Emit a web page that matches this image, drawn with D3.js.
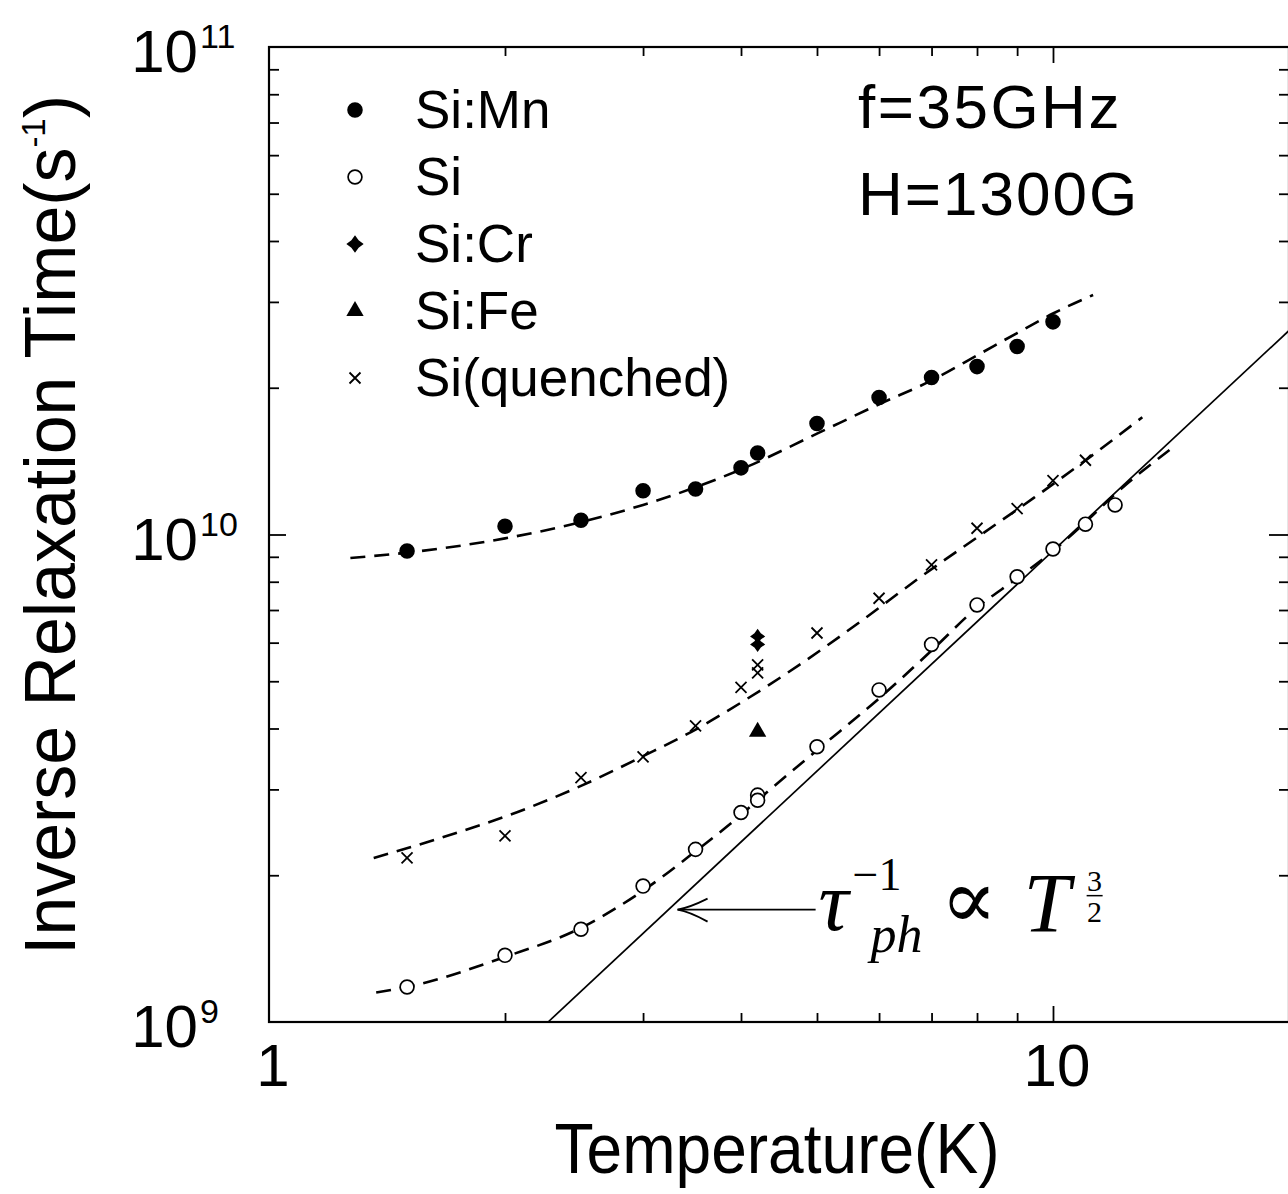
<!DOCTYPE html>
<html>
<head>
<meta charset="utf-8">
<script src="https://cdn.jsdelivr.net/npm/d3@7"></script>
<style>
  body { margin: 0; background: #fff; }
  text { fill: #000; }
</style>
</head>
<body>
<svg id="chart" width="1288" height="1194"></svg>
<script>
// values: temperature in K, inverse relaxation time in s^-1
var mnT    = [1.5, 2, 2.5, 3, 3.5, 4, 4.2, 5, 6, 7, 8, 9, 10];
var mnRate = [9.25e9, 1.04e10, 1.07e10, 1.23e10, 1.24e10, 1.37e10, 1.47e10, 1.69e10, 1.91e10, 2.10e10, 2.21e10, 2.43e10, 2.73e10];

var siT    = [1.5, 2, 2.5, 3, 3.5, 4, 4.2, 4.2, 5, 6, 7, 8, 9, 10, 11, 12];
var siRate = [1.18e9, 1.37e9, 1.55e9, 1.90e9, 2.26e9, 2.69e9, 2.92e9, 2.85e9, 3.67e9, 4.80e9, 5.95e9, 7.17e9, 8.19e9, 9.34e9, 1.05e10, 1.15e10];

var crT    = [4.2, 4.2];
var crRate = [6.18e9, 5.95e9];

var feT    = [4.2];
var feRate = [3.94e9];

var quenchedT    = [1.5, 2, 2.5, 3, 3.5, 4, 4.2, 4.2, 5, 6, 7, 8, 9, 10, 11];
var quenchedRate = [2.17e9, 2.41e9, 3.17e9, 3.50e9, 4.05e9, 4.86e9, 5.40e9, 5.20e9, 6.28e9, 7.40e9, 8.66e9, 1.03e10, 1.13e10, 1.29e10, 1.42e10];

// dashed fit curves
var mnFitT    = [1.27, 1.5, 2, 2.5, 3, 3.5, 4, 5, 6, 7, 8, 9, 10, 11.25];
var mnFitRate = [8.95e9, 9.18e9, 9.82e9, 1.06e10, 1.15e10, 1.25e10, 1.36e10, 1.61e10, 1.85e10, 2.07e10, 2.33e10, 2.59e10, 2.84e10, 3.10e10];

var quenchedFitT    = [1.36, 1.62, 2.13, 2.5, 3, 3.5, 4, 4.77, 5.69, 6.77, 8.1, 9.46, 11.2, 13];
var quenchedFitRate = [2.17e9, 2.36e9, 2.74e9, 3.05e9, 3.51e9, 3.98e9, 4.52e9, 5.43e9, 6.64e9, 8.17e9, 1.0e10, 1.19e10, 1.45e10, 1.74e10];

var siFitT    = [1.37, 1.5, 2, 2.5, 3, 3.5, 4, 4.2, 5, 6, 7, 8, 9, 10, 11, 12, 14.08];
var siFitRate = [1.15e9, 1.18e9, 1.36e9, 1.56e9, 1.86e9, 2.24e9, 2.66e9, 2.85e9, 3.61e9, 4.61e9, 5.78e9, 7.08e9, 8.13e9, 9.25e9, 1.06e10, 1.21e10, 1.49e10];

// phonon line  tau_ph^-1 ~ T^(3/2)  (straight on log-log, two end points)
var phononT    = [2.27, 20];
var phononRate = [1e9, 2.62e10];

// arrow pointing at the phonon line
var arrowT    = [3.32, 4.98];
var arrowRate = 1.7e9;

var xMajorTicks = [1, 10];
var xMajorLabels = ['1', '10'];
var xMinorTicks = [2, 3, 4, 5, 6, 7, 8, 9];
var yMajorTicks = [1e9, 1e10, 1e11];
var yExponents = ['9', '10', '11'];
var yMinorTicks = [2e9, 3e9, 4e9, 5e9, 6e9, 7e9, 8e9, 9e9, 2e10, 3e10, 4e10, 5e10, 6e10, 7e10, 8e10, 9e10];

var legendNames = ['Si:Mn', 'Si', 'Si:Cr', 'Si:Fe', 'Si(quenched)'];

var sans = '"Liberation Sans", Arial, Helvetica, sans-serif';
var serif = '"Liberation Serif", "DejaVu Serif", serif';

var svg = d3.select('#chart');

var x = d3.scaleLog().domain([1, 20]).range([269, 1289]);
var y = d3.scaleLog().domain([1e9, 1e11]).range([1022, 47]);

var x0 = x.range()[0], x1 = x.range()[1];
var yb = y.range()[0], yt = y.range()[1];

// frame
svg.append('rect')
  .attr('x', x0).attr('y', yt)
  .attr('width', x1 - x0).attr('height', yb - yt)
  .attr('fill', 'none').attr('stroke', '#000').attr('stroke-width', 2.2);

function ticks(axis, values, len, tr) {
  var g = svg.append('g').attr('transform', tr)
    .call(axis.tickValues(values).tickSize(-len).tickSizeOuter(0).tickFormat(''));
  g.select('.domain').remove();
  g.selectAll('line').attr('stroke', '#000').attr('stroke-width', 1.8);
}

ticks(d3.axisBottom(x), xMinorTicks, 9, 'translate(0,' + yb + ')');
ticks(d3.axisBottom(x), [10], 16, 'translate(0,' + yb + ')');
ticks(d3.axisTop(x), xMinorTicks, 9, 'translate(0,' + yt + ')');
ticks(d3.axisTop(x), [10], 16, 'translate(0,' + yt + ')');
ticks(d3.axisLeft(y), yMinorTicks, 10, 'translate(' + x0 + ',0)');
ticks(d3.axisLeft(y), [1e10], 17, 'translate(' + x0 + ',0)');
ticks(d3.axisRight(y), yMinorTicks, 10, 'translate(' + x1 + ',0)');
ticks(d3.axisRight(y), [1e10], 20, 'translate(' + x1 + ',0)');

// tick labels
svg.selectAll('.xlab').data(xMajorTicks).enter().append('text')
  .attr('x', function(d) { return x(d) + 4; })
  .attr('y', yb + 64)
  .attr('text-anchor', 'middle')
  .attr('font-family', sans).attr('font-size', 60)
  .text(function(d, i) { return xMajorLabels[i]; });

yMajorTicks.forEach(function(v, i) {
  svg.append('text')
    .attr('x', 198).attr('y', y(v) + 25)
    .attr('text-anchor', 'end')
    .attr('font-family', sans).attr('font-size', 60)
    .text('10');
  svg.append('text')
    .attr('x', 200).attr('y', y(v) + 1)
    .attr('font-family', sans).attr('font-size', 34)
    .text(yExponents[i]);
});

// axis titles
svg.append('text')
  .attr('x', (x0 + x1) / 2 - 2).attr('y', 1173)
  .attr('text-anchor', 'middle')
  .attr('font-family', sans).attr('font-size', 70)
  .attr('textLength', 445).attr('lengthAdjust', 'spacingAndGlyphs')
  .text('Temperature(K)');

var yTitle = svg.append('text')
  .attr('transform', 'translate(75,525) rotate(-90)')
  .attr('text-anchor', 'middle')
  .attr('font-family', sans).attr('font-size', 72)
  .attr('textLength', 860).attr('lengthAdjust', 'spacingAndGlyphs');
yTitle.append('tspan').text('Inverse Relaxation Time(s');
yTitle.append('tspan').attr('font-size', 34).attr('dy', -30).text('-1');
yTitle.append('tspan').attr('dy', 30).text(')');

// curves
var line = d3.line()
  .x(function(d) { return x(d[0]); })
  .y(function(d) { return y(d[1]); })
  .curve(d3.curveMonotoneX);

function zip(a, b) { return a.map(function(v, i) { return [v, b[i]]; }); }

[[mnFitT, mnFitRate], [quenchedFitT, quenchedFitRate], [siFitT, siFitRate]].forEach(function(c) {
  svg.append('path')
    .attr('d', line(zip(c[0], c[1])))
    .attr('fill', 'none').attr('stroke', '#000')
    .attr('stroke-width', 2.6).attr('stroke-dasharray', '15,9');
});

svg.append('path')
  .attr('d', d3.line().x(function(d) { return x(d[0]); }).y(function(d) { return y(d[1]); })(zip(phononT, phononRate)))
  .attr('fill', 'none').attr('stroke', '#000').attr('stroke-width', 1.7);

// marker shapes
var sparkle = {
  draw: function(ctx, size) {
    var r = Math.sqrt(size) / 2, k = r * 0.42;
    ctx.moveTo(0, -r); ctx.lineTo(k, -k); ctx.lineTo(r, 0); ctx.lineTo(k, k);
    ctx.lineTo(0, r); ctx.lineTo(-k, k); ctx.lineTo(-r, 0); ctx.lineTo(-k, -k);
    ctx.closePath();
  }
};
var crossX = {
  draw: function(ctx, size) {
    var r = Math.sqrt(size) / 2;
    ctx.moveTo(-r, -r); ctx.lineTo(r, r);
    ctx.moveTo(r, -r); ctx.lineTo(-r, r);
  }
};

var markers = [
  { sym: d3.symbolCircle, size: 190, fill: '#000', stroke: 'none', sw: 0 },
  { sym: d3.symbolCircle, size: 150, fill: '#fff', stroke: '#000', sw: 1.7 },
  { sym: sparkle, size: 300, fill: '#000', stroke: 'none', sw: 0 },
  { sym: d3.symbolTriangle, size: 130, fill: '#000', stroke: 'none', sw: 0 },
  { sym: crossX, size: 121, fill: 'none', stroke: '#000', sw: 1.8 }
];

function drawPoints(ts, rs, m, size) {
  svg.append('g').selectAll('path').data(zip(ts, rs)).enter().append('path')
    .attr('transform', function(d) { return 'translate(' + x(d[0]) + ',' + y(d[1]) + ')'; })
    .attr('d', d3.symbol().type(m.sym).size(size || m.size))
    .attr('fill', m.fill).attr('stroke', m.stroke).attr('stroke-width', m.sw);
}

drawPoints(mnT, mnRate, markers[0]);
drawPoints(siT, siRate, markers[1]);
drawPoints(crT, crRate, markers[2], 230);
drawPoints(feT, feRate, markers[3]);
drawPoints(quenchedT, quenchedRate, markers[4]);

// legend
legendNames.forEach(function(name, i) {
  var ly = 110 + i * 67;
  var m = markers[i];
  svg.append('path')
    .attr('transform', 'translate(355,' + ly + ')')
    .attr('d', d3.symbol().type(m.sym).size(m.size))
    .attr('fill', m.fill).attr('stroke', m.stroke).attr('stroke-width', m.sw);
  svg.append('text')
    .attr('x', 415).attr('y', ly + 18)
    .attr('font-family', sans).attr('font-size', 53)
    .text(name);
});

svg.append('text').attr('x', 858).attr('y', 128)
  .attr('font-family', sans).attr('font-size', 62).attr('letter-spacing', 2.5)
  .text('f=35GHz');
svg.append('text').attr('x', 858).attr('y', 215)
  .attr('font-family', sans).attr('font-size', 62).attr('letter-spacing', 2)
  .text('H=1300G');

// arrow + formula
var ay = y(arrowRate), ax0 = x(arrowT[0]), ax1 = x(arrowT[1]);
svg.append('line').attr('x1', ax0).attr('y1', ay).attr('x2', ax1).attr('y2', ay)
  .attr('stroke', '#000').attr('stroke-width', 1.6);
svg.append('path')
  .attr('d', 'M' + (ax0 + 30) + ',' + (ay - 11) + ' Q' + (ax0 + 12) + ',' + (ay - 2) + ' ' + ax0 + ',' + ay +
             ' Q' + (ax0 + 12) + ',' + (ay + 2) + ' ' + (ax0 + 30) + ',' + (ay + 12))
  .attr('fill', 'none').attr('stroke', '#000').attr('stroke-width', 1.8);

var fx = ax1 + 3;
svg.append('text').attr('x', fx).attr('y', ay + 20)
  .attr('font-family', serif).attr('font-style', 'italic').attr('font-size', 84).text('\u03c4');
svg.append('text').attr('x', fx + 34).attr('y', ay - 20)
  .attr('font-family', serif).attr('font-size', 46).text('\u22121');
svg.append('text').attr('x', fx + 52).attr('y', ay + 42)
  .attr('font-family', serif).attr('font-style', 'italic').attr('font-size', 52).text('ph');
svg.append('text').attr('x', fx + 122).attr('y', ay + 18)
  .attr('font-family', '"DejaVu Serif", serif').attr('font-size', 84).text('\u221d');
svg.append('text').attr('x', fx + 205).attr('y', ay + 22)
  .attr('font-family', serif).attr('font-style', 'italic').attr('font-size', 84).text('T');
svg.append('text').attr('x', fx + 276).attr('y', ay - 19)
  .attr('text-anchor', 'middle').attr('font-family', serif).attr('font-size', 30).text('3');
svg.append('line').attr('x1', fx + 268).attr('x2', fx + 284).attr('y1', ay - 14).attr('y2', ay - 14)
  .attr('stroke', '#000').attr('stroke-width', 1.5);
svg.append('text').attr('x', fx + 276).attr('y', ay + 12)
  .attr('text-anchor', 'middle').attr('font-family', serif).attr('font-size', 30).text('2');
</script>
</body>
</html>
